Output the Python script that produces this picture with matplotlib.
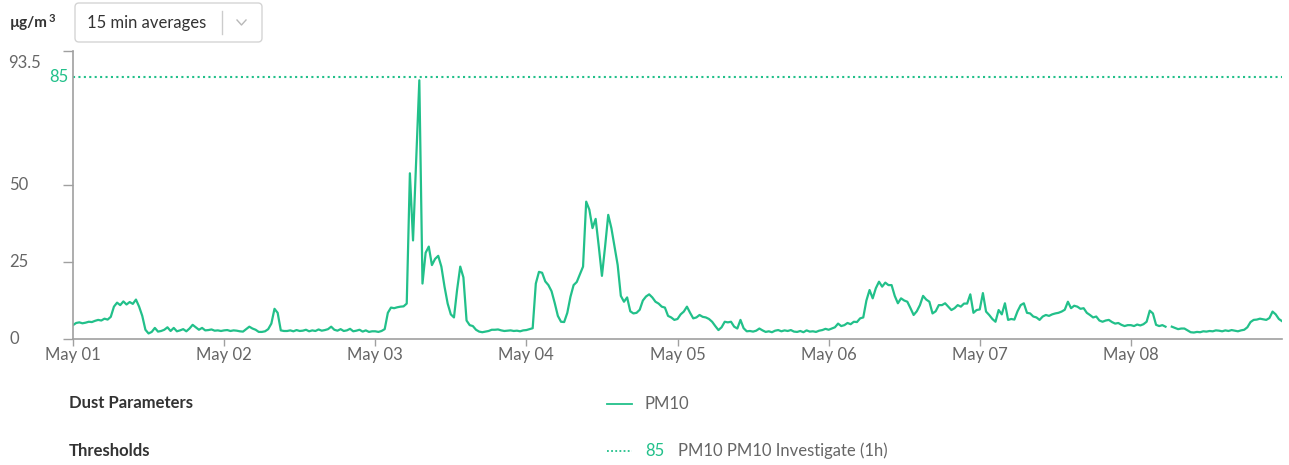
import numpy as np
import pandas as pd
import matplotlib
matplotlib.use("Agg")
import matplotlib.pyplot as plt
import matplotlib.dates as mdates
from matplotlib.patches import FancyBboxPatch
from matplotlib.lines import Line2D
from matplotlib.transforms import IdentityTransform, blended_transform_factory

plt.rcParams["font.family"] = ["Lato", "DejaVu Sans"]

# PM10 readings, one value every 30 minutes (µg/m3)
may01 = [4.5, 5.2, 5.4, 5.1, 5.3, 5.6, 5.5, 5.9, 6.2, 6.0, 6.6, 6.3,
         7.2, 10.5, 11.8, 11.0, 12.2, 11.2, 12.0, 11.4, 12.8, 10.5, 7.5, 3.0,
         1.8, 2.3, 3.6, 2.4, 2.6, 3.0, 3.8, 2.6, 3.6, 2.5, 2.8, 3.2,
         2.5, 3.4, 4.6, 3.8, 3.0, 3.6, 2.8, 2.9, 3.1, 2.7, 2.8, 2.6]
may02 = [2.8, 2.9, 2.6, 2.8, 2.7, 2.5, 2.4, 3.2, 4.0, 3.4, 3.0, 2.3,
         2.3, 2.5, 3.2, 5.0, 9.8, 8.5, 2.8, 2.6, 2.6, 2.8, 2.5, 2.9,
         2.6, 2.7, 3.0, 2.5, 2.8, 2.6, 3.1, 2.7, 2.9, 3.2, 4.0, 3.0,
         2.7, 3.2, 2.6, 2.8, 3.3, 2.5, 2.7, 3.0, 2.4, 2.8, 2.3, 2.5]
may03 = [2.5, 2.3, 2.6, 3.2, 8.5, 10.2, 10.0, 10.3, 10.5, 10.6, 11.5, 53.8,
         32.0, 58.0, 84.0, 18.0, 28.0, 30.0, 24.0, 26.0, 27.0, 23.5, 17.0, 11.5,
         8.0, 7.0, 16.0, 23.5, 20.0, 6.0, 4.5, 4.2, 3.0, 2.4, 2.2, 2.4,
         2.6, 3.0, 3.0, 3.1, 2.8, 2.6, 2.7, 2.8, 2.6, 2.7, 2.5, 2.8]
may04 = [2.9, 3.2, 3.5, 18.0, 21.8, 21.5, 18.7, 17.5, 15.5, 11.7, 7.5, 5.6,
         5.5, 8.5, 13.7, 17.5, 18.5, 21.0, 23.5, 44.6, 42.0, 36.0, 39.0, 30.0,
         20.5, 30.0, 40.3, 36.0, 30.0, 24.0, 14.0, 12.1, 13.5, 9.0, 8.3, 8.5,
         9.5, 12.5, 13.8, 14.5, 13.5, 12.1, 11.5, 10.5, 10.2, 7.5, 7.0, 6.2]
may05 = [6.5, 8.0, 8.9, 10.5, 8.5, 6.7, 7.0, 7.8, 7.2, 7.0, 6.5, 5.6,
         4.2, 2.9, 3.8, 5.6, 5.4, 5.6, 4.0, 3.4, 6.2, 3.5, 2.5, 2.6,
         2.4, 2.7, 3.4, 2.8, 2.3, 2.5, 2.2, 2.7, 2.9, 2.5, 2.8, 2.6,
         2.9, 2.4, 2.3, 2.6, 2.2, 2.8, 2.4, 2.5, 2.3, 2.7, 2.9, 3.3]
may06 = [3.0, 3.4, 3.8, 5.0, 4.2, 4.5, 5.2, 4.8, 5.6, 5.5, 6.7, 7.0,
         12.5, 15.9, 13.2, 16.5, 18.6, 17.0, 18.3, 17.5, 17.5, 14.0, 11.6, 13.2,
         12.5, 12.1, 10.0, 7.8, 9.0, 11.0, 14.0, 12.8, 12.1, 8.3, 9.0, 11.0,
         11.0, 11.6, 10.5, 9.4, 10.0, 11.0, 10.5, 11.5, 11.5, 14.5, 8.5, 9.4]
may07 = [9.6, 14.9, 8.9, 7.8, 6.5, 5.6, 9.4, 8.0, 11.6, 6.2, 6.5, 6.3,
         9.0, 11.0, 11.6, 8.5, 8.3, 7.3, 7.0, 6.2, 7.3, 7.8, 7.5, 8.0,
         8.3, 8.5, 8.9, 9.5, 12.1, 10.0, 10.8, 10.5, 9.8, 10.0, 8.5, 7.8,
         7.0, 7.3, 6.0, 5.6, 6.0, 6.2, 5.5, 5.0, 5.2, 4.6, 4.2, 4.5]
may08 = [4.5, 4.2, 4.7, 4.4, 4.8, 5.6, 9.2, 8.3, 4.6, 4.2, 4.5, 4.0,
         np.nan, 4.0, 3.6, 3.2, 3.4, 3.4, 2.8, 2.2, 2.1, 2.3, 2.2, 2.5,
         2.4, 2.6, 2.5, 2.8, 2.7, 2.5, 2.8, 2.6, 2.9, 2.7, 2.5, 2.8,
         3.0, 3.8, 5.5, 6.2, 6.3, 6.6, 6.4, 6.2, 6.8, 8.9, 8.0, 6.5]
may09 = [5.8]

threshold = 85
y_max = 93.5
ytick_vals = [0, 25, 50]
ytick_labels = ["0", "25", "50"]

pm10 = np.array(may01 + may02 + may03 + may04 + may05 + may06 + may07 + may08 + may09)
times = pd.date_range("2023-05-01", periods=len(pm10), freq="30min")
day_ticks = pd.date_range("2023-05-01", "2023-05-08", freq="D")

GREEN = "#22c08a"
AXIS = "#a0a0a0"
TXT = "#666666"
DARK = "#333333"
FS = 12

W, H = 1289, 465
fig = plt.figure(figsize=(W / 100, H / 100), dpi=100)


def fx(px):
    return px / W


def fy(py):
    return 1 - py / H


ax = fig.add_axes([fx(73), fy(339), fx(1282) - fx(73), fy(51) - fy(339)])
ax.plot(times, pm10, color=GREEN, lw=1.6)
ax.axhline(threshold, color=GREEN, lw=1.5, ls=(0, (1, 1.6)))

ax.set_ylim(0, y_max)
ax.set_xlim(times[0], times[-1])
for s in ["top", "right"]:
    ax.spines[s].set_visible(False)
for s in ["left", "bottom"]:
    ax.spines[s].set_color(AXIS)
    ax.spines[s].set_linewidth(1.2)

ax.set_yticks(ytick_vals + [y_max])
ax.set_yticklabels([])
ax.tick_params(axis="y", length=7, color=AXIS, width=1)
ax.set_xticks(day_ticks)
ax.xaxis.set_major_formatter(mdates.DateFormatter("%b %d"))
ax.tick_params(axis="x", length=5, color=AXIS, width=1, labelsize=FS,
               labelcolor=TXT, pad=1)

# y labels sit flush left, like the web chart
tr = blended_transform_factory(fig.transFigure, ax.transData)
for v, lbl in zip(ytick_vals, ytick_labels):
    fig.text(fx(9), v, lbl, transform=tr, ha="left", va="center",
             fontsize=FS, color=TXT)
fig.text(fx(8), 89.7, "93.5", transform=tr, ha="left", va="center",
         fontsize=FS, color=TXT)
fig.text(fx(68), threshold, str(threshold), transform=tr, ha="right",
         va="center", fontsize=FS, color=GREEN)

# header: unit and averaging dropdown
unit = fig.text(fx(10), fy(23), "µg/m", ha="left", va="center", fontsize=11,
                fontweight="bold", color=DARK)
ext = unit.get_window_extent(renderer=fig.canvas.get_renderer())
fig.text((ext.x1 + 1) / W, fy(18), "3", ha="left", va="center", fontsize=8,
         fontweight="bold", color=DARK)
box = FancyBboxPatch((75, H - 42), 187, 39, boxstyle="round,pad=0,rounding_size=4",
                     transform=IdentityTransform(), fc="white", ec="#d4d4d4", lw=1)
fig.add_artist(box)
fig.text(fx(87), fy(23), "15 min averages", ha="left", va="center",
         fontsize=FS, color=DARK)
fig.add_artist(Line2D([222, 222], [H - 11, H - 34], transform=IdentityTransform(),
                      color="#cccccc", lw=1))
fig.add_artist(Line2D([237, 241.5, 246], [H - 20, H - 25, H - 20],
                      transform=IdentityTransform(), color="#b8b8b8", lw=1))

# legend rows under the chart
fig.text(fx(69), fy(403), "Dust Parameters", ha="left", va="center",
         fontsize=FS, fontweight="bold", color=DARK)
fig.text(fx(69), fy(451), "Thresholds", ha="left", va="center",
         fontsize=FS, fontweight="bold", color=DARK)
fig.add_artist(Line2D([fx(607), fx(632)], [fy(404), fy(404)],
                      transform=fig.transFigure, color=GREEN, lw=1.3))
fig.text(fx(645), fy(404), "PM10", ha="left", va="center", fontsize=FS, color=TXT)
fig.add_artist(Line2D([fx(607), fx(632)], [fy(451), fy(451)],
                      transform=fig.transFigure, color=GREEN, lw=1.3, ls=(0, (1, 1.3))))
fig.text(fx(645), fy(451), str(threshold), ha="left", va="center", fontsize=FS,
         color=GREEN)
fig.text(fx(678), fy(451), "PM10 PM10 Investigate (1h)", ha="left", va="center",
         fontsize=FS, color=TXT)

fig.savefig("out.png", dpi=100)
